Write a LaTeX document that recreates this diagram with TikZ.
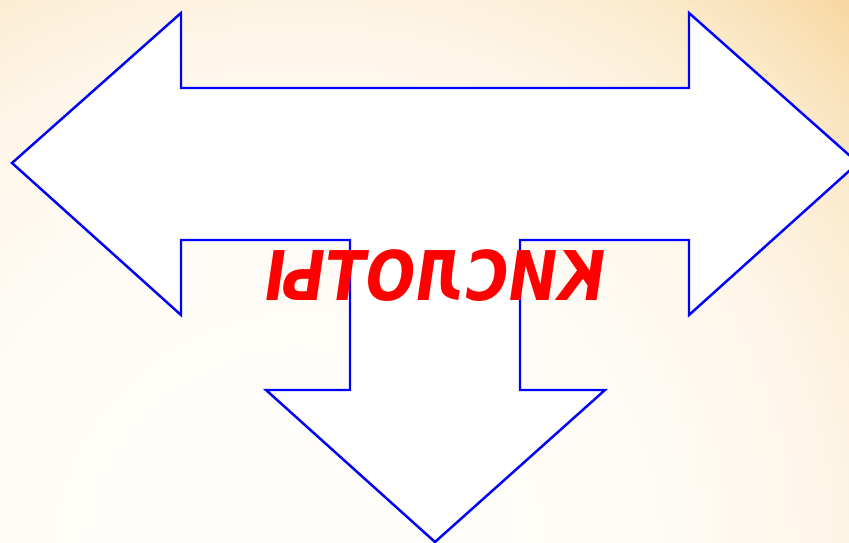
\documentclass[tikz,border=0pt]{standalone}
\usepackage{fontspec}
\usepackage{tikz}
\newfontfamily\acidfont[FakeSlant=-0.17]{DejaVu Sans}
\definecolor{bgwhite}{HTML}{FFFDF9}
\definecolor{bgorange}{HTML}{F7D8A2}
\definecolor{arrowblue}{HTML}{0000FF}
\definecolor{acidred}{HTML}{FF0000}
\tikzset{
  tarrow/.style={draw=arrowblue, fill=white, line width=1.4pt, line join=miter},
  acidlabel/.style={text=acidred, inner sep=0pt, anchor=base,
    font=\acidfont\bfseries\fontsize{39}{39}\selectfont}
}

\begin{document}
\begin{tikzpicture}[x=0.2mm, y=-0.2mm]
  \useasboundingbox (0,0) rectangle (849,543);
  % background glow, rings from the corner inwards
  \begin{scope}
    \clip (0,0) rectangle (849,543);
    \fill[bgorange] (0,0) rectangle (849,543);
    \foreach \r in {80,...,1} {
      \pgfmathsetmacro\f{100*min(1,(\r/78)^4)}
      \fill[bgorange!\f!bgwhite] (300,560) circle (\r*10);
    }
  \end{scope}

  % left-right-down arrow
  \draw[tarrow] (12,163) -- (181,13) -- (181,88) -- (689,88) -- (689,13)
    -- (858,163) -- (689,315) -- (689,240) -- (520,240) -- (520,390)
    -- (605,390) -- (435,542) -- (266,390) -- (350,390) -- (350,240)
    -- (181,240) -- (181,315) -- cycle;

  % mirrored word
  \node[acidlabel] (acids) at (432,300) {\scalebox{-0.86}[1]{КИСЛОТЫ}};
\end{tikzpicture}
\end{document}
